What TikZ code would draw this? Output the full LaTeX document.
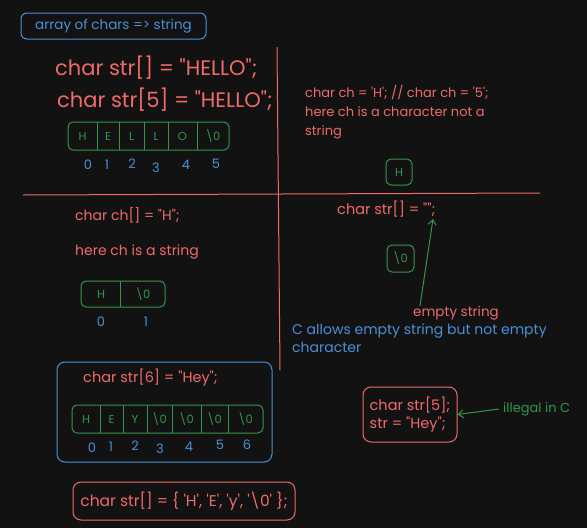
\documentclass[tikz,border=0pt]{standalone}
\usepackage{fontspec}
\setmainfont{Poppins}[Ligatures=TeXOff]
\definecolor{ink_bg}{RGB}{18, 18, 18}
\definecolor{ink_red}{RGB}{240, 106, 106}
\definecolor{ink_green}{RGB}{52, 150, 72}
\definecolor{ink_blue}{RGB}{74, 144, 214}
\usetikzlibrary{arrows.meta, positioning}
\newcommand{\nul}{\textbackslash 0}
\newcommand{\fs}[2]{\fontsize{#1}{#2}\selectfont}

\begin{document}
\begin{tikzpicture}[x=1pt, y=-1pt, font=\fs{13.5}{19},
        txt/.style={text=ink_red, inner sep=0pt, anchor=west},
        big/.style={txt, font=\fs{21}{24}},
        arr/.style={draw=ink_green, rounded corners=5pt, line width=1pt},
        bar/.style={ink_green, line width=0.9pt},
        cell/.style={text=ink_green, font=\fs{11.5}{13}, inner sep=0pt},
        idx/.style={text=ink_blue, font=\fs{13}{14}, inner sep=0pt},
        rule/.style={ink_red, line width=1pt},
        garr/.style={-{Straight Barb[length=5pt, width=8pt]}, ink_green, line width=1pt}]
        \fill[ink_bg] (0,0) rectangle (587,528);
        \useasboundingbox (0,0) rectangle (587,528);
        % Titre
        \node[draw=ink_blue, rounded corners=6pt, line width=1pt, text=ink_blue,
              minimum width=185, minimum height=26] (title) at (113.5,26)
          {array of chars => string};
        % Lignes de partage
        \draw[rule] (277,47) -- (280,370);
        \draw[rule] (23,195) -- (540,193);
        % HELLO
        \node[big] (s1) at (55,68) {char str[] = "HELLO";};
        \node[big] (s2) at (57,100) {char str[5] = "HELLO";};
        \node[arr, minimum width=161, minimum height=28] (hello) at (148.5,136) {};
        \foreach \x in {97,119,144,168,197}
          \draw[bar] (\x,122) -- (\x,150);
        \foreach \c/\x in {H/82.5, E/108, L/131.5, L/156, O/182.5, \nul/213}
          \node[cell] at (\x,136) {\c};
        \foreach \i/\x/\y in {0/88/165, 1/107/165, 2/132/164, 3/156/168, 4/186/165, 5/216/164}
          \node[idx] at (\x,\y) {\i};
        % Caractère
        \node[txt, anchor=north west, align=left, font=\fs{13}{19}] (chr) at (305,85)
          {char ch = 'H'; // char ch = '5';\\here ch is a character not a\\string};
        \node[arr, cell, minimum size=26] (hbox) at (399,172) {H};
        % Chaîne "H"
        \node[txt, font=\fs{14}{16}] (chs) at (75,215) {char ch[] = "H";};
        \node[txt, font=\fs{14}{16}] (chn) at (75,252) {here ch is a string};
        \node[arr, minimum width=84, minimum height=26] (hnul) at (123,294) {};
        \draw[bar] (120,281) -- (120,307);
        \node[cell] at (101,294) {H};
        \node[cell] at (143,294) {\nul};
        \node[idx] at (101,322) {0};
        \node[idx] at (146,322) {1};
        % Chaîne vide
        \node[txt, font=\fs{14.5}{16}] (estr) at (337,209) {char str[] = "";};
        \coordinate (quotes) at (433,219);
        \node[arr, cell, minimum size=27] (nbox) at (400.5,258.5) {\nul};
        \node[txt] (es) at (413,313) {empty string};
        \draw[garr] ([xshift=7]es.north west) -- (quotes);
        \node[txt, text=ink_blue, anchor=north west, align=left, font=\fs{14}{18}] (note)
          at (292,324) {C allows empty string but not empty\\character};
        % Hey
        \node[draw=ink_blue, rounded corners=8pt, line width=1pt,
              minimum width=215, minimum height=100] (heybox) at (164.5,412) {};
        \node[txt, font=\fs{14.5}{16}] (hey) at (83,378) {char str[6] = "Hey";};
        \node[arr, minimum width=191, minimum height=28] (heyarr) at (167.5,419) {};
        \foreach \x in {100,123,147,172,201,228}
          \draw[bar] (\x,405) -- (\x,433);
        \foreach \c/\x in {H/86, E/111.5, Y/135, \nul/159.5, \nul/186.5, \nul/214.5, \nul/245.5}
          \node[cell] at (\x,419) {\c};
        \foreach \i/\x/\y in {0/92/448, 1/111/447, 2/135/446, 3/160/449, 4/189/447, 5/220/445, 6/247/445}
          \node[idx] at (\x,\y) {\i};
        % Accolades
        \node[draw=ink_red, text=ink_red, rounded corners=8pt, line width=1pt,
              font=\fs{15.5}{18}, minimum width=222, minimum height=38] (brace) at (184,501)
          {char str[] = \{ 'H', 'E', 'y', '\nul' \};};
        % Illégal
        \node[draw=ink_red, text=ink_red, rounded corners=8pt, line width=1pt,
              align=left, font=\fs{14.5}{18}, minimum width=94, minimum height=55] (decl)
          at (410,414.5) {char str[5];\\str = "Hey";};
        \node[txt, text=ink_green, font=\fs{13}{15}] (ill) at (503,409) {illegal in C};
        \draw[garr] ([xshift=-4]ill.west) -- (decl.east);
      \end{tikzpicture}
\end{document}
